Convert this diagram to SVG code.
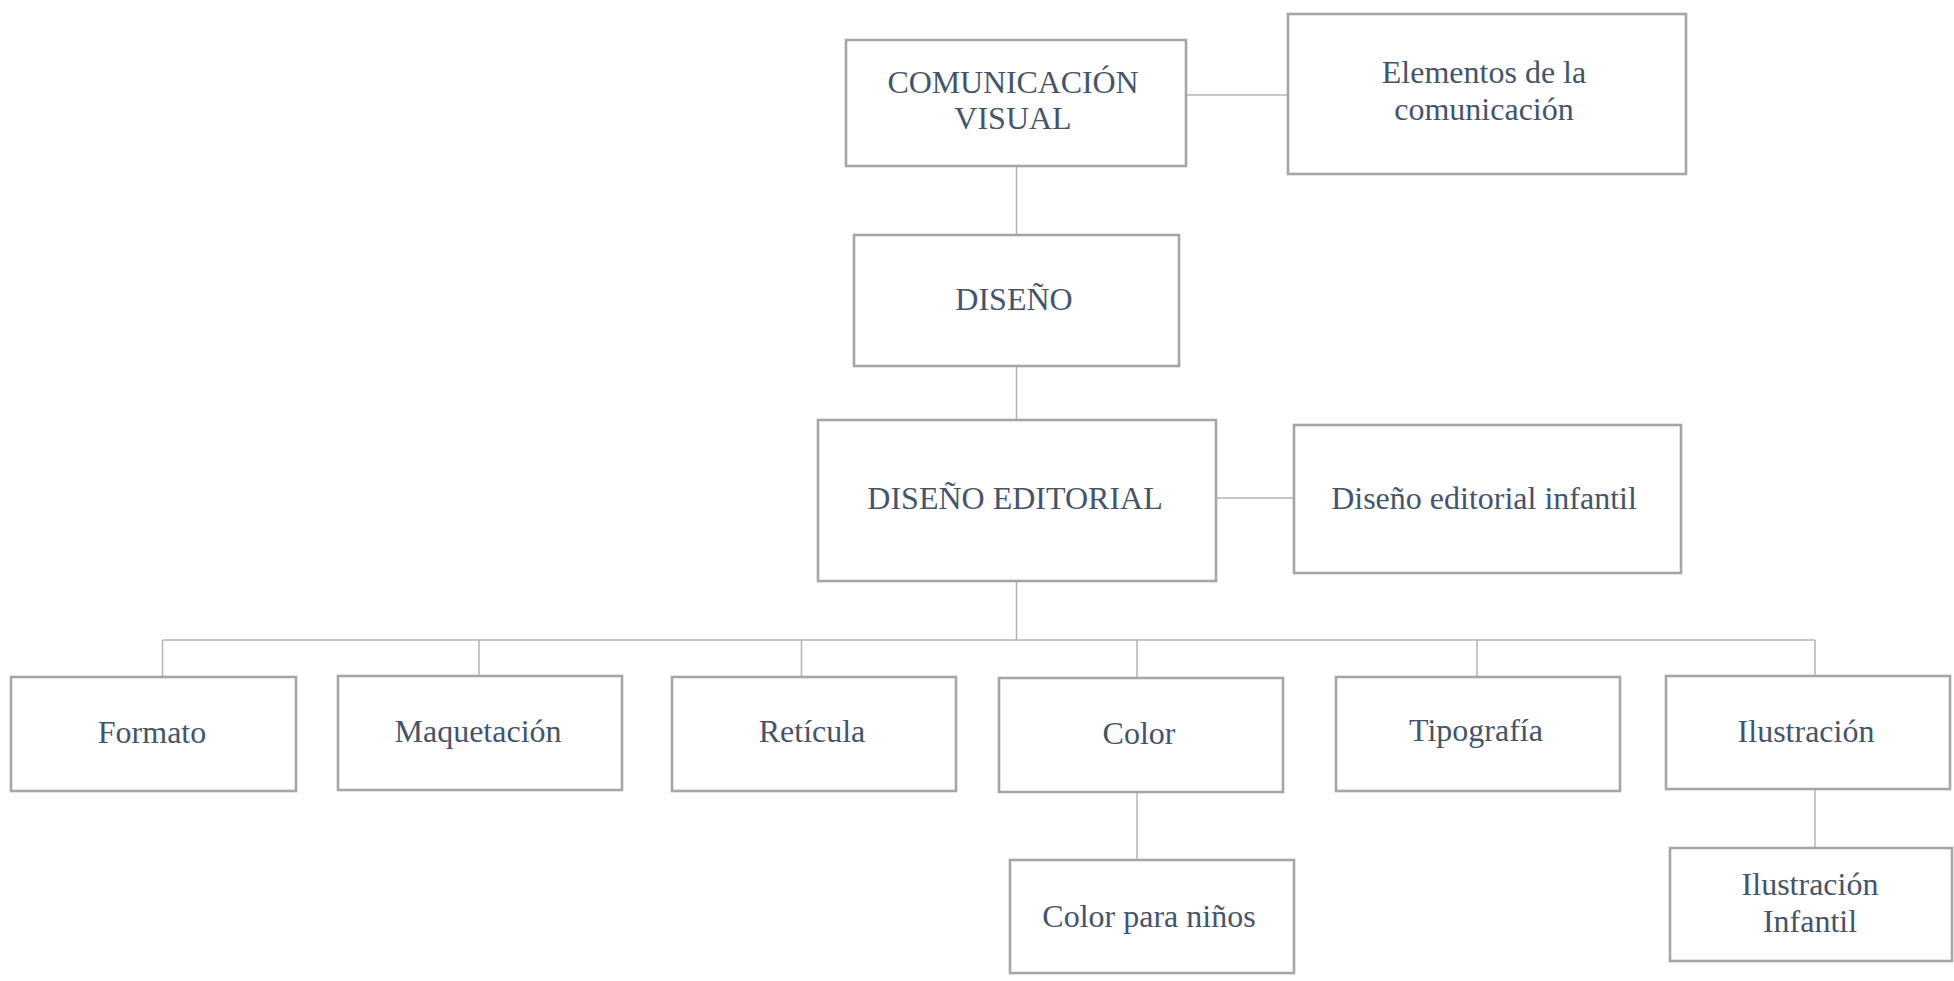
<svg xmlns="http://www.w3.org/2000/svg" width="1954" height="981" viewBox="0 0 1954 981">
<style>
.box{fill:#ffffff;stroke:#a6a6a6;stroke-width:2.6}
.ln{fill:none;stroke:#b3b3b3;stroke-width:1.5}
.t{font-family:"Liberation Serif","Times New Roman",serif;font-size:32px;fill:#44546a;text-anchor:middle}
</style>
<rect width="1954" height="981" fill="#ffffff"/>
<g id="connectors">
<path class="ln" d="M1186 95H1288"/>
<path class="ln" d="M1016.5 167V234"/>
<path class="ln" d="M1016.5 367V419"/>
<path class="ln" d="M1216 498H1294"/>
<path class="ln" d="M1016.5 581V640"/>
<path class="ln" d="M162.5 640H1815"/>
<path class="ln" d="M162.5 640V676"/>
<path class="ln" d="M479 640V675"/>
<path class="ln" d="M801.5 640V676"/>
<path class="ln" d="M1137 640V677"/>
<path class="ln" d="M1477 640V676"/>
<path class="ln" d="M1815 640V675"/>
<path class="ln" d="M1137 793V859"/>
<path class="ln" d="M1815 790V847"/>
</g>
<g id="n-comunicacion">
<rect class="box" x="846" y="40" width="340" height="126"/>
<text class="t" x="1013" y="93" textLength="251" lengthAdjust="spacing">COMUNICACIÓN</text>
<text class="t" x="1013" y="129">VISUAL</text>
</g>
<g id="n-elementos">
<rect class="box" x="1288" y="14" width="398" height="160"/>
<text class="t" x="1484" y="83">Elementos de la</text>
<text class="t" x="1484" y="120">comunicación</text>
</g>
<g id="n-diseno">
<rect class="box" x="854" y="235" width="325" height="131"/>
<text class="t" x="1014" y="310">DISEÑO</text>
</g>
<g id="n-diseno-editorial">
<rect class="box" x="818" y="420" width="398" height="161"/>
<text class="t" x="1015" y="509">DISEÑO EDITORIAL</text>
</g>
<g id="n-diseno-editorial-infantil">
<rect class="box" x="1294" y="425" width="387" height="148"/>
<text class="t" x="1484" y="509">Diseño editorial infantil</text>
</g>
<g id="n-formato">
<rect class="box" x="11" y="677" width="285" height="114"/>
<text class="t" x="152" y="743">Formato</text>
</g>
<g id="n-maquetacion">
<rect class="box" x="338" y="676" width="284" height="114"/>
<text class="t" x="478" y="742">Maquetación</text>
</g>
<g id="n-reticula">
<rect class="box" x="672" y="677" width="284" height="114"/>
<text class="t" x="812" y="742">Retícula</text>
</g>
<g id="n-color">
<rect class="box" x="999" y="678" width="284" height="114"/>
<text class="t" x="1139" y="744">Color</text>
</g>
<g id="n-color-ninos">
<rect class="box" x="1010" y="860" width="284" height="113"/>
<text class="t" x="1149" y="927">Color para niños</text>
</g>
<g id="n-tipografia">
<rect class="box" x="1336" y="677" width="284" height="114"/>
<text class="t" x="1476" y="741">Tipografía</text>
</g>
<g id="n-ilustracion">
<rect class="box" x="1666" y="676" width="284" height="113"/>
<text class="t" x="1806" y="742">Ilustración</text>
</g>
<g id="n-ilustracion-infantil">
<rect class="box" x="1670" y="848" width="282" height="113"/>
<text class="t" x="1810" y="895">Ilustración</text>
<text class="t" x="1810" y="932">Infantil</text>
</g>
</svg>
